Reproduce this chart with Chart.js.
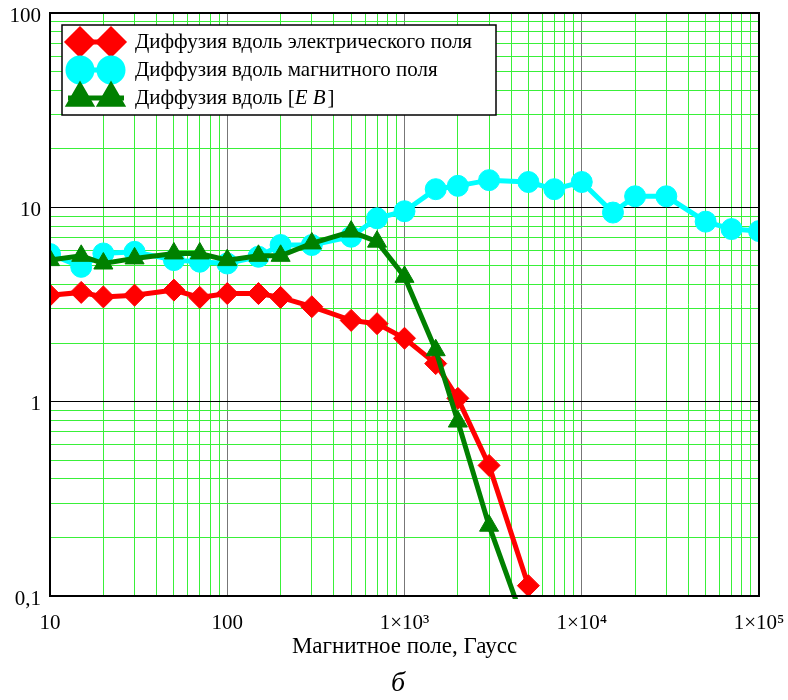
<!DOCTYPE html>
<html>
<head>
<meta charset="utf-8">
<script src="https://cdn.jsdelivr.net/npm/chart.js@4/dist/chart.umd.min.js"></script>
<style>
  html, body { margin: 0; padding: 0; background: #ffffff; }
  #wrap { width: 788px; height: 700px; position: relative; }
</style>
</head>
<body>
<div id="wrap"><canvas id="c" width="788" height="700"></canvas></div>
<script>
// ---- data ----
const xValues = [10, 15, 20, 30, 50, 70, 100, 150, 200, 300, 500, 700, 1000, 1500, 2000, 3000, 5000, 7000, 10000, 15000, 20000, 30000, 50000, 70000, 100000];
const diffAlongE = [3.53, 3.65, 3.46, 3.53, 3.75, 3.44, 3.6, 3.6, 3.44, 3.08, 2.62, 2.52, 2.12, 1.57, 1.04, 0.47, 0.113];
const diffAlongB = [5.75, 4.94, 5.79, 5.9, 5.35, 5.25, 5.14, 5.57, 6.4, 6.4, 7.06, 8.78, 9.55, 12.4, 12.9, 13.8, 13.5, 12.4, 13.5, 9.4, 11.4, 11.4, 8.44, 7.73, 7.55];
const diffAlongEB = [5.35, 5.63, 5.14, 5.46, 5.79, 5.79, 5.35, 5.63, 5.63, 6.52, 7.5, 6.66, 4.39, 1.84, 0.79, 0.23, 0.063];

const seriesNames = ['Диффузия вдоль электрического поля', 'Диффузия вдоль магнитного поля', 'Диффузия вдоль [E B]'];
const xTickValues = [10, 100, 1000, 10000, 100000];
const xTickLabels = ['10', '100', '1×10³', '1×10⁴', '1×10⁵'];
const yTickValues = [0.1, 1, 10, 100];
const yTickLabels = ['0,1', '1', '10', '100'];
const xAxisTitle = 'Магнитное поле, Гаусс';
const panelLabel = 'б';

// ---- helpers ----
function toPoints(xs, ys) { return ys.map((y, i) => ({ x: xs[i], y: y })); }
function logTicks(decades) {
  const out = [];
  for (let i = 0; i < decades.length - 1; i++) {
    for (let d = 1; d <= 9; d++) out.push(Number((d * decades[i]).toPrecision(6)));
  }
  out.push(decades[decades.length - 1]);
  return out;
}
function labelFor(vals, labels, v) {
  for (let i = 0; i < vals.length; i++) if (Math.abs(vals[i] - v) / vals[i] < 1e-6) return labels[i];
  return '';
}
function noPad(s) { s.paddingLeft = 0; s.paddingRight = 0; s.paddingTop = 0; s.paddingBottom = 0; }
const serif = "'Liberation Serif', 'Times New Roman', serif";
const MINOR = '#39f039';

const legendPlugin = {
  id: 'boxLegend',
  afterDraw(chart) {
    const ctx = chart.ctx;
    const a = chart.chartArea;
    ctx.save();
    ctx.strokeStyle = '#000';
    ctx.lineWidth = 2;
    ctx.strokeRect(a.left, a.top, a.right - a.left, a.bottom - a.top);
    // legend box
    const bx = 62, by = 25, bw = 434, bh = 90;
    ctx.fillStyle = '#fff';
    ctx.fillRect(bx, by, bw, bh);
    ctx.lineWidth = 1.5;
    ctx.strokeRect(bx, by, bw, bh);
    const rows = [42, 70, 98];
    chart.data.datasets.forEach((ds, i) => {
      const y = rows[i];
      ctx.strokeStyle = ds.borderColor;
      ctx.lineWidth = 5;
      ctx.beginPath();
      ctx.moveTo(68, y); ctx.lineTo(124, y); ctx.stroke();
      [80, 111].forEach(px => {
        ctx.fillStyle = ds.pointBackgroundColor;
        ctx.strokeStyle = ds.pointBorderColor;
        Chart.helpers.drawPoint(ctx, { pointStyle: ds.pointStyle, radius: ds.pointRadius + 1.5, rotation: 0, borderWidth: 1 }, px, y);
      });
      ctx.fillStyle = '#000';
      ctx.font = '21px ' + serif;
      ctx.textBaseline = 'middle';
      ctx.textAlign = 'left';
      if (i === 2) {
        const base = 'Диффузия вдоль [';
        ctx.fillText(base, 135, y);
        let w = ctx.measureText(base).width;
        ctx.font = 'italic 21px ' + serif;
        ctx.fillText('E B', 135 + w, y);
        w += ctx.measureText('E B').width;
        ctx.font = '21px ' + serif;
        ctx.fillText(']', 135 + w + 2, y);
      } else {
        ctx.fillText(ds.label, 135, y);
      }
    });
    ctx.font = 'italic 28px ' + serif;
    ctx.textAlign = 'center';
    ctx.textBaseline = 'middle';
    ctx.fillStyle = '#000';
    ctx.fillText(panelLabel, 398, 684);
    ctx.restore();
  }
};

new Chart(document.getElementById('c'), {
  type: 'line',
  data: {
    datasets: [
      {
        label: seriesNames[0],
        data: toPoints(xValues, diffAlongE),
        borderColor: '#ff0000', backgroundColor: '#ff0000',
        pointBackgroundColor: '#ff0000', pointBorderColor: '#ff0000',
        pointStyle: 'rectRot', pointRadius: 11, pointBorderWidth: 1,
        borderWidth: 5, tension: 0, order: 1,
        clip: { left: 0, top: 0, right: 0, bottom: 3 }
      },
      {
        label: seriesNames[1],
        data: toPoints(xValues, diffAlongB),
        borderColor: '#00ffff', backgroundColor: '#00ffff',
        pointBackgroundColor: '#00ffff', pointBorderColor: '#00ffff',
        pointStyle: 'circle', pointRadius: 10.5, pointBorderWidth: 1,
        borderWidth: 5, tension: 0, order: 2,
        clip: { left: 0, top: 0, right: 0, bottom: 3 }
      },
      {
        label: seriesNames[2],
        data: toPoints(xValues, diffAlongEB),
        borderColor: '#008000', backgroundColor: '#008000',
        pointBackgroundColor: '#008000', pointBorderColor: '#008000',
        pointStyle: 'triangle', pointRadius: 11, pointBorderWidth: 1,
        borderWidth: 5, tension: 0, order: 0,
        clip: { left: 0, top: 0, right: 0, bottom: 3 }
      }
    ]
  },
  options: {
    responsive: false,
    animation: false,
    devicePixelRatio: 1,
    layout: { padding: { top: 13, right: 29, left: 0, bottom: 0 } },
    plugins: { legend: { display: false }, tooltip: { enabled: false }, title: { display: false } },
    scales: {
      x: {
        type: 'logarithmic', min: 10, max: 100000, offset: false,
        afterBuildTicks: s => { s.ticks = logTicks(xTickValues).map(v => ({ value: v })); },
        afterFit: s => { s.height = 104; noPad(s); },
        ticks: {
          autoSkip: false, maxRotation: 0, minRotation: 0, padding: 15,
          color: '#000', font: { family: serif, size: 21 },
          callback: v => labelFor(xTickValues, xTickLabels, v)
        },
        grid: {
          drawTicks: false, lineWidth: 1,
          color: c => (c.tick && xTickValues.includes(c.tick.value)) ? '#777777' : MINOR
        },
        border: { display: false },
        title: { display: true, text: xAxisTitle, color: '#000', font: { family: serif, size: 23 }, padding: { top: 0, bottom: 39 } }
      },
      y: {
        type: 'logarithmic', min: 0.1, max: 100,
        afterBuildTicks: s => { s.ticks = logTicks(yTickValues).map(v => ({ value: v })); },
        afterFit: s => { s.width = 50; noPad(s); },
        ticks: {
          autoSkip: false, padding: 9, labelOffset: 3,
          color: '#000', font: { family: serif, size: 21 },
          callback: v => labelFor(yTickValues, yTickLabels, v)
        },
        grid: {
          drawTicks: false, lineWidth: 1,
          color: c => (c.tick && yTickValues.includes(c.tick.value)) ? '#000000' : MINOR
        },
        border: { display: false }
      }
    }
  },
  plugins: [legendPlugin]
});
</script>
</body>
</html>
